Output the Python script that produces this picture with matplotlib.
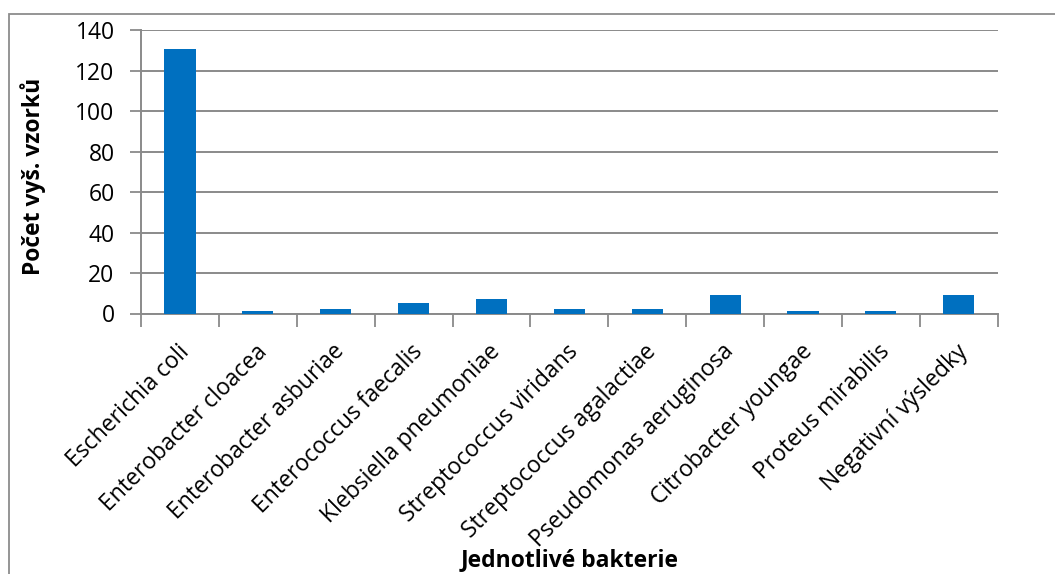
import matplotlib
matplotlib.use("Agg")
import matplotlib.pyplot as plt
from matplotlib.patches import Rectangle

# Počty výsledků podle bakterií
bakterie = [
    "Escherichia coli",
    "Enterobacter cloacea",
    "Enterobacter asburiae",
    "Enterococcus faecalis",
    "Klebsiella pneumoniae",
    "Streptococcus viridans",
    "Streptococcus agalactiae",
    "Pseudomonas aeruginosa",
    "Citrobacter youngae",
    "Proteus mirabilis",
    "Negativní výsledky",
]
pocty = [131, 1, 2, 5, 7, 2, 2, 9, 1, 1, 9]
y_ticks = [0, 20, 40, 60, 80, 100, 120, 140]

W, H = 1055, 574
plt.rcParams["font.family"] = ["Open Sans", "DejaVu Sans"]
FS = 16.5

fig = plt.figure(figsize=(W / 100, H / 100), dpi=100)
fig.patch.set_facecolor("white")

# rámeček grafu
fig.patches.append(Rectangle((9 / W, -0.1), 1.2, 1 - 14 / H + 0.1,
                             transform=fig.transFigure, fill=False,
                             edgecolor="#8c8c8c", linewidth=1.3))

left, right = 141 / W, 997.7 / W
top, bottom = 1 - 30.3 / H, 1 - 313.5 / H
ax = fig.add_axes([left, bottom, right - left, top - bottom])

grid_c = "#8a8a8a"
x = list(range(len(bakterie)))
ax.bar(x, pocty, width=0.4, color="#0070C0", zorder=3)

ax.set_xlim(-0.5, len(bakterie) - 0.5)
ax.set_ylim(0, 140)
ax.set_yticks(y_ticks)
ax.set_yticklabels([str(v) for v in y_ticks], fontsize=FS)
ax.yaxis.grid(True, color=grid_c, linewidth=1.4, zorder=0)
ax.tick_params(axis="y", length=8, width=1.3, color=grid_c, pad=11)

# značky mezi kategoriemi na ose x
ax.set_xticks([i - 0.5 for i in range(len(bakterie) + 1)])
ax.set_xticklabels([])
ax.tick_params(axis="x", length=9, width=1.3, color=grid_c)
for i, name in enumerate(bakterie):
    ax.annotate(name, xy=(i, 0), xycoords=("data", "axes fraction"),
                xytext=(4, -25), textcoords="offset points",
                rotation=45, rotation_mode="anchor", ha="right", va="center",
                fontsize=FS)

for s in ["top", "right"]:
    ax.spines[s].set_visible(False)
for s in ["left", "bottom"]:
    ax.spines[s].set_color(grid_c)
    ax.spines[s].set_linewidth(1.4)

fig.text(33 / W, 1 - 176 / H, "Počet vyš. vzorků", rotation=90,
         ha="center", va="center", fontsize=FS, fontweight="bold")
fig.text(570 / W, 1 - 560 / H, "Jednotlivé bakterie",
         ha="center", va="center", fontsize=FS, fontweight="bold")

fig.savefig("out.png", dpi=100, facecolor="white")
